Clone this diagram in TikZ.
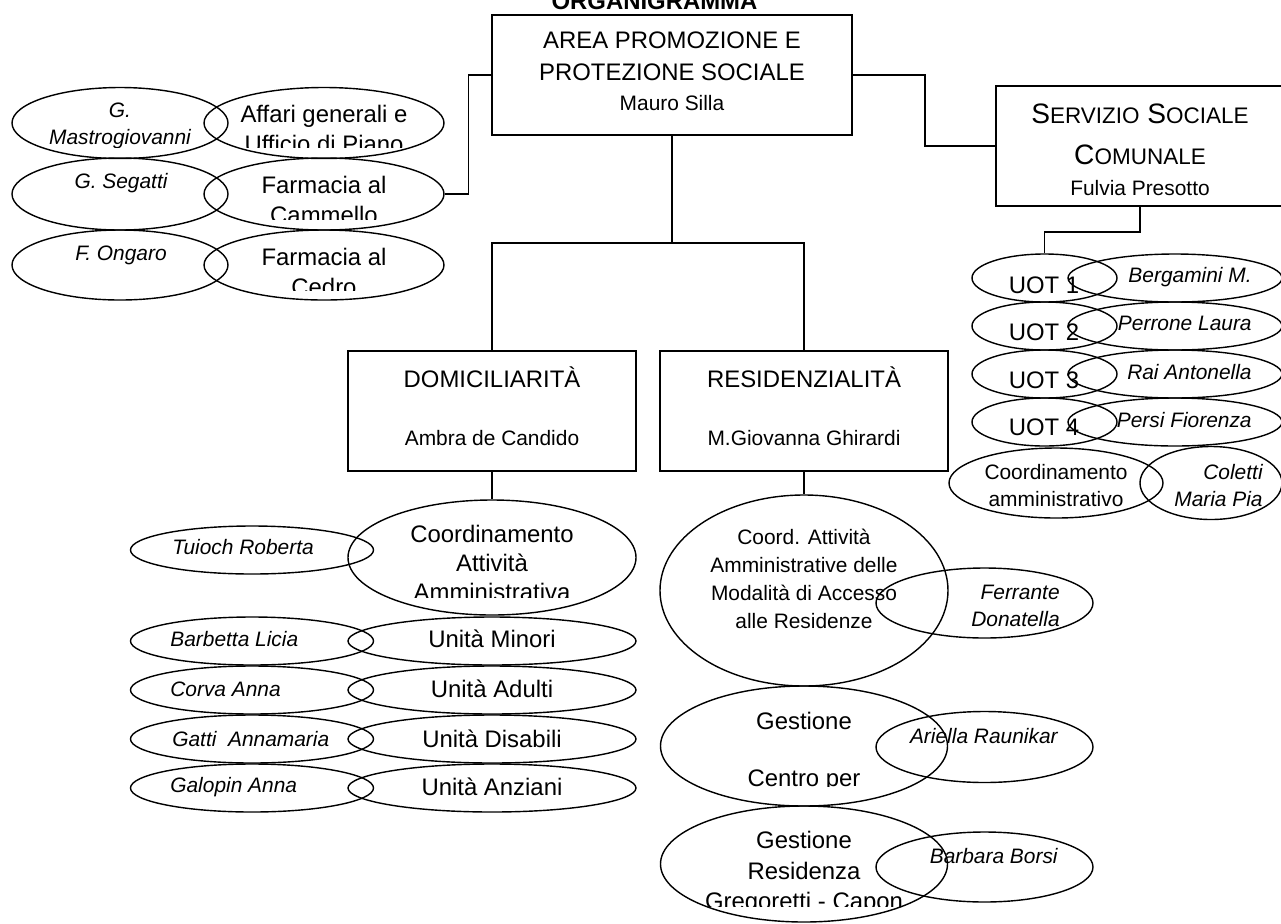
\documentclass[tikz,border=0pt]{standalone}
\usepackage{fontspec}
\setmainfont{Liberation Sans}
\usepackage{tikz}
\usetikzlibrary{shapes.geometric}

\newcommand{\pname}[1]{{\fontsize{11.9}{15}\selectfont #1}}
\newcommand{\smc}[1]{{\fontsize{12.8}{15}\selectfont #1}}

\tikzstyle{office} = [rectangle, minimum width=5.76cm, minimum height=2.4cm, align=center, inner sep=0pt, draw=black, line width=0.9pt, font=\fontsize{13.6}{17}\selectfont]
\tikzstyle{oval} = [ellipse, draw=black, line width=0.8pt, inner sep=0pt]
\tikzstyle{unit} = [inner sep=0pt, align=center, font=\fontsize{13.6}{17.5}\selectfont]
\tikzstyle{note} = [inner sep=0pt, align=center, font=\fontsize{11.9}{15.9}\selectfont]
\tikzstyle{person} = [inner sep=0pt, font=\fontsize{11.9}{15.3}\selectfont\itshape]
\tikzstyle{link} = [line width=0.9pt]

\begin{document}
\begin{tikzpicture}
\useasboundingbox (0,0) rectangle (25.62,-18.46);

\node (title) [anchor=base, font=\fontsize{13.6}{17}\selectfont\bfseries] at (13.09,-0.18) {ORGANIGRAMMA};

% boxes
\node (topbox) [office, minimum width=7.2cm] at (13.44,-1.5) {AREA PROMOZIONE E\\[1pt]PROTEZIONE SOCIALE\\\pname{Mauro Silla}\rule[-4.5pt]{0pt}{0pt}};
\node (servizio) [office, font=\fontsize{16}{19}\selectfont] at (22.8,-2.92) {\rule{0pt}{16pt}S\smc{ERVIZIO} S\smc{OCIALE}\\[4pt]C\smc{OMUNALE}\\[-1pt]\pname{Fulvia Presotto}};
\node (domic) [office] at (9.84,-8.22) {DOMICILIARITÀ\\[16pt]\pname{Ambra de Candido}\rule[-5.6pt]{0pt}{0pt}};
\node (resid) [office] at (16.08,-8.22) {RESIDENZIALITÀ\\[16pt]\pname{M.Giovanna Ghirardi}\rule[-5.6pt]{0pt}{0pt}};

% left group
\node (mastro) [oval, minimum width=4.32cm, minimum height=1.42cm] at (2.4,-2.46) {};
\node (affari) [oval, minimum width=4.8cm, minimum height=1.42cm] at (6.48,-2.46) {};
\node (segatti) [oval, minimum width=4.32cm, minimum height=1.44cm] at (2.4,-3.88) {};
\node (cammello) [oval, minimum width=4.8cm, minimum height=1.44cm] at (6.48,-3.88) {};
\node (ongaro) [oval, minimum width=4.32cm, minimum height=1.4cm] at (2.4,-5.3) {};
\node (cedro) [oval, minimum width=4.8cm, minimum height=1.4cm] at (6.48,-5.3) {};

\begin{scope}
\clip (0.24,-1.76) rectangle (8.88,-2.94);
\node (mastrolbl) [person, align=center] at (2.4,-2.52) {G.\\Mastrogiovanni};
\node (affarilbl) [unit] at (6.48,-2.58) {Affari generali e\\Ufficio di Piano};
\end{scope}
\node (segattilbl) [person] at (2.42,-3.66) {G. Segatti};
\begin{scope}
\clip (4.08,-3.16) rectangle (8.88,-4.38);
\node (cammellolbl) [unit] at (6.48,-4.0) {Farmacia al\\Cammello};
\end{scope}
\node (ongarolbl) [person] at (2.42,-5.1) {F. Ongaro};
\begin{scope}
\clip (4.08,-4.6) rectangle (8.88,-5.8);
\node (cedrolbl) [unit] at (6.48,-5.44) {Farmacia al\\Cedro};
\end{scope}

% right group
\node (uot1) [oval, minimum width=2.9cm, minimum height=0.96cm] at (20.89,-5.56) {};
\node (uot2) [oval, minimum width=2.9cm, minimum height=0.96cm] at (20.89,-6.52) {};
\node (uot3) [oval, minimum width=2.9cm, minimum height=0.96cm] at (20.89,-7.48) {};
\node (uot4) [oval, minimum width=2.9cm, minimum height=0.96cm] at (20.89,-8.44) {};
\node (bergamini) [oval, minimum width=4.28cm, minimum height=0.96cm] at (23.5,-5.56) {};
\node (perrone) [oval, minimum width=4.28cm, minimum height=0.96cm] at (23.5,-6.52) {};
\node (rai) [oval, minimum width=4.28cm, minimum height=0.96cm] at (23.5,-7.48) {};
\node (persi) [oval, minimum width=4.28cm, minimum height=0.96cm] at (23.5,-8.44) {};
\node (coordamm) [oval, minimum width=4.28cm, minimum height=1.4cm] at (21.12,-9.66) {};
\node (coletti) [oval, minimum width=2.84cm, minimum height=1.46cm] at (24.22,-9.66) {};

\node (uot1lbl) [unit] at (20.88,-5.7) {UOT 1};
\node (uot2lbl) [unit] at (20.88,-6.64) {UOT 2};
\node (uot3lbl) [unit] at (20.88,-7.6) {UOT 3};
\node (uot4lbl) [unit] at (20.88,-8.54) {UOT 4};
\node (bergaminilbl) [person, anchor=east] at (25.04,-5.54) {Bergamini M.};
\node (perronelbl) [person, anchor=east] at (25.04,-6.46) {Perrone Laura};
\node (railbl) [person, anchor=east] at (25.04,-7.44) {Rai Antonella};
\node (persilbl) [person, anchor=east] at (25.04,-8.4) {Persi Fiorenza};
\node (coordammlbl) [note, font=\fontsize{11.9}{15.3}\selectfont] at (21.12,-9.71) {Coordinamento\\amministrativo};
\node (colettilbl) [person, align=right, anchor=east] at (25.26,-9.71) {Coletti\\Maria Pia};

% domiciliarita
\node (tuioch) [oval, minimum width=4.86cm, minimum height=0.96cm] at (5.04,-11.0) {};
\node (coordatt) [oval, minimum width=5.76cm, minimum height=2.3cm] at (9.84,-11.15) {};
\node (barbetta) [oval, minimum width=4.86cm, minimum height=0.96cm] at (5.04,-12.82) {};
\node (minori) [oval, minimum width=5.76cm, minimum height=0.96cm] at (9.84,-12.82) {};
\node (corva) [oval, minimum width=4.86cm, minimum height=0.96cm] at (5.04,-13.8) {};
\node (adulti) [oval, minimum width=5.76cm, minimum height=0.96cm] at (9.84,-13.8) {};
\node (gatti) [oval, minimum width=4.86cm, minimum height=0.96cm] at (5.04,-14.78) {};
\node (disabili) [oval, minimum width=5.76cm, minimum height=0.96cm] at (9.84,-14.78) {};
\node (galopin) [oval, minimum width=4.86cm, minimum height=0.96cm] at (5.04,-15.76) {};
\node (anziani) [oval, minimum width=5.76cm, minimum height=0.96cm] at (9.84,-15.76) {};

\node (tuiochlbl) [person, anchor=west] at (3.44,-10.94) {Tuioch Roberta};
\begin{scope}
\clip (6.98,-10.0) rectangle (12.72,-11.94);
\node (coordattlbl) [unit, font=\fontsize{13.6}{16.4}\selectfont] at (9.84,-11.26) {Coordinamento\\Attività\\Amministrativa};
\end{scope}
\node (barbettalbl) [person, anchor=west] at (3.4,-12.78) {Barbetta Licia};
\node (minorilbl) [unit] at (9.84,-12.78) {Unità Minori};
\node (corvalbl) [person, anchor=west] at (3.4,-13.78) {Corva Anna};
\node (adultilbl) [unit] at (9.84,-13.78) {Unità Adulti};
\node (gattilbl) [person, anchor=west] at (3.44,-14.78) {Gatti~~Annamaria};
\node (disabililbl) [unit] at (9.84,-14.78) {Unità Disabili};
\node (galopinlbl) [person, anchor=west] at (3.4,-15.74) {Galopin Anna};
\node (anzianilbl) [unit] at (9.84,-15.74) {Unità Anziani};

% residenzialita
\node (coordacc) [oval, minimum width=5.76cm, minimum height=3.82cm] at (16.08,-11.81) {};
\node (ferrante) [oval, minimum width=4.34cm, minimum height=1.4cm] at (19.69,-12.06) {};
\node (centro) [oval, minimum width=5.74cm, minimum height=2.4cm] at (16.08,-14.92) {};
\node (ariella) [oval, minimum width=4.34cm, minimum height=1.42cm] at (19.69,-14.94) {};
\node (residenza) [oval, minimum width=5.74cm, minimum height=2.32cm] at (16.08,-17.28) {};
\node (barbara) [oval, minimum width=4.34cm, minimum height=1.4cm] at (19.69,-17.34) {};

\node (coordacclbl) [note] at (16.08,-11.58) {Coord. Attività\\Amministrative delle\\Modalità di Accesso\\alle Residenze};
\node (ferrantelbl) [person, align=right, anchor=east] at (21.2,-12.11) {Ferrante\\Donatella};
\begin{scope}
\clip (13.22,-13.72) rectangle (18.96,-15.72);
\node (centrolbl) [unit] at (16.08,-15.04) {Gestione\\[15pt]Centro per};
\end{scope}
\node (ariellalbl) [person, anchor=east] at (21.16,-14.72) {Ariella Raunikar};
\begin{scope}
\clip (13.22,-16.12) rectangle (18.96,-18.12);
\node (residenzalbl) [unit] at (16.08,-17.46) {Gestione\\Residenza\\Gregoretti - Capon};
\end{scope}
\node (barbaralbl) [person, anchor=east] at (21.16,-17.12) {Barbara Borsi};

% connectors
\coordinate (fork) at (13.44,-4.86);
\draw [link] (cammello.east) -- ++(0.48,0) |- (topbox.west);
\draw [link] (topbox.east) -- ++(1.44,0) |- (servizio.west);
\draw [link] (topbox.south) -- (fork);
\draw [link] (domic.north) |- (fork) -| (resid.north);
\draw [link] (servizio.south) -- ++(0,-0.5) -| (uot1.north);
\draw [link] (domic.south) -- (coordatt.north);
\draw [link] (resid.south) -- (coordacc.north);

\end{tikzpicture}
\end{document}
